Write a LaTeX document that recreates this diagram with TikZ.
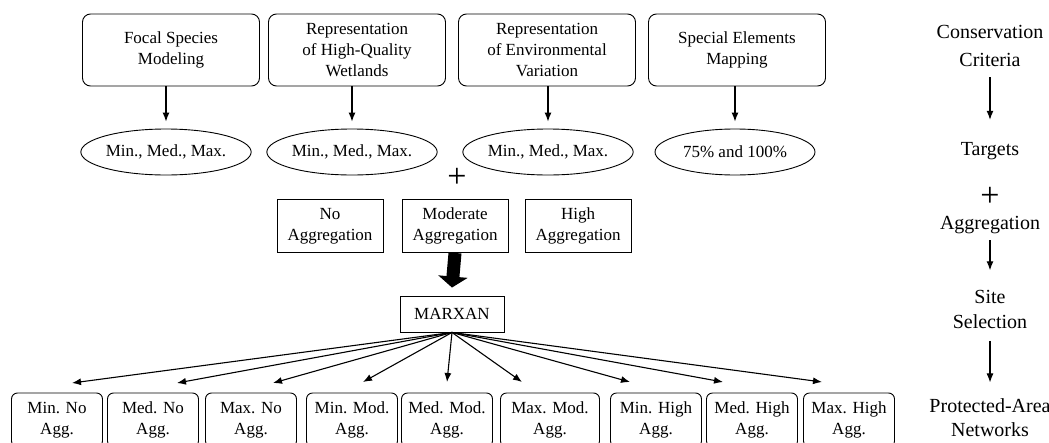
\documentclass[tikz,border=0pt]{standalone}
\usepackage{fontspec}
\setmainfont{Liberation Serif}
\usetikzlibrary{shapes.geometric}
\usetikzlibrary{arrows.meta}

\tikzset{
  critbox/.style={draw,rounded corners=8pt,minimum width=177pt,minimum height=72pt,align=center,line width=0.9pt},
  targetell/.style={draw,ellipse,minimum width=160pt,minimum height=46pt,inner sep=0pt,line width=0.9pt},
  aggbox/.style={draw,minimum width=106pt,minimum height=53pt,align=center,line width=0.9pt},
  netbox/.style={draw,rounded corners=6pt,minimum width=91pt,minimum height=54pt,align=center,inner sep=2pt,line width=0.9pt},
  flow/.style={line width=1.1pt,-{Latex[length=9pt,width=7pt]}},
  stage/.style={align=center,font=\fontsize{20}{25}\selectfont},
  plussign/.style={font=\fontsize{34}{34}\selectfont,inner sep=0pt},
}

\begin{document}
\begin{tikzpicture}[x=1pt,y=-1pt,font=\fontsize{17}{21}\selectfont]
\useasboundingbox (0,0) rectangle (1049,442);
% conservation criteria
\node[critbox] (focal) at (171,50) {Focal Species\\Modeling};
\node[critbox] (wetl) at (357,50) {Representation\\of High-Quality\\Wetlands};
\node[critbox] (envar) at (547,50) {Representation\\of Environmental\\Variation};
\node[critbox] (spec) at (737,50) {Special Elements\\Mapping};
% targets
\node[targetell] (tfocal) at (166,152) {Min., Med., Max.};
\node[targetell] (twetl) at (352,152) {Min., Med., Max.};
\node[targetell] (tenvar) at (548,152) {Min., Med., Max.};
\node[targetell] (tspec) at (735,152) {75\% and 100\%};
\draw[flow] (focal.south -| tfocal) -- ([yshift=7pt]tfocal.north);
\draw[flow] (wetl.south -| twetl) -- ([yshift=7pt]twetl.north);
\draw[flow] (envar.south -| tenvar) -- ([yshift=7pt]tenvar.north);
\draw[flow] (spec.south -| tspec) -- ([yshift=7pt]tspec.north);
\node[plussign] (plus) at (457,178) {+};
% aggregation
\node[aggbox] (noagg) at (330,226) {No\\Aggregation};
\node[aggbox] (modagg) at (455,226) {Moderate\\Aggregation};
\node[aggbox] (hiagg) at (578,226) {High\\Aggregation};
\node[draw,line width=0.9pt,minimum width=104pt,minimum height=36pt] (marxan) at (452,314) {MARXAN};
\draw[line width=13pt,-{Triangle[length=11pt 0,width=29pt 0]}] (modagg.south) -- ([yshift=8pt]marxan.north);
% protected-area networks
\node[netbox] (n1) at (57,420) {Min. No\\Agg.};
\node[netbox] (n2) at (153,420) {Med. No\\Agg.};
\node[netbox] (n3) at (251,420) {Max. No\\Agg.};
\node[netbox] (n4) at (352,420) {Min. Mod.\\Agg.};
\node[netbox] (n5) at (447,420) {Med. Mod.\\Agg.};
\node[netbox,minimum width=99pt] (n6) at (550,420) {Max. Mod.\\Agg.};
\node[netbox] (n7) at (656,420) {Min. High\\Agg.};
\node[netbox] (n8) at (752,420) {Med. High\\Agg.};
\node[netbox] (n9) at (849,420) {Max. High\\Agg.};
\coordinate (t1) at (72,383);
\coordinate (t2) at (177,383);
\coordinate (t3) at (273,383);
\coordinate (t4) at (363,382);
\coordinate (t5) at (447,382);
\coordinate (t6) at (522,382);
\coordinate (t7) at (630,382);
\coordinate (t8) at (723,382);
\coordinate (t9) at (822,382);
\foreach \t in {t1,t2,t3,t4,t5,t6,t7,t8,t9}
  \draw[flow] (marxan.south) -- (\t);
% process column
\node[stage,font=\fontsize{20}{28}\selectfont] (ccrit) at (990,46) {Conservation\\Criteria};
\node[stage] (ctarg) at (990,151) {Targets};
\node[plussign] (cplus) at (990,197) {+};
\node[stage] (cagg) at (990,225) {Aggregation};
\node[stage] (csite) at (990,309) {Site\\Selection};
\node[stage,font=\fontsize{20}{24}\selectfont] (cprot) at (990,418) {Protected-Area\\Networks};
\draw[flow,shorten <=7pt,shorten >=19pt] (ccrit) -- (ctarg);
\draw[flow,shorten <=3pt,shorten >=16pt] (cagg) -- (csite);
\draw[flow,shorten <=9pt,shorten >=13pt] (csite) -- (cprot);
\end{tikzpicture}
\end{document}
